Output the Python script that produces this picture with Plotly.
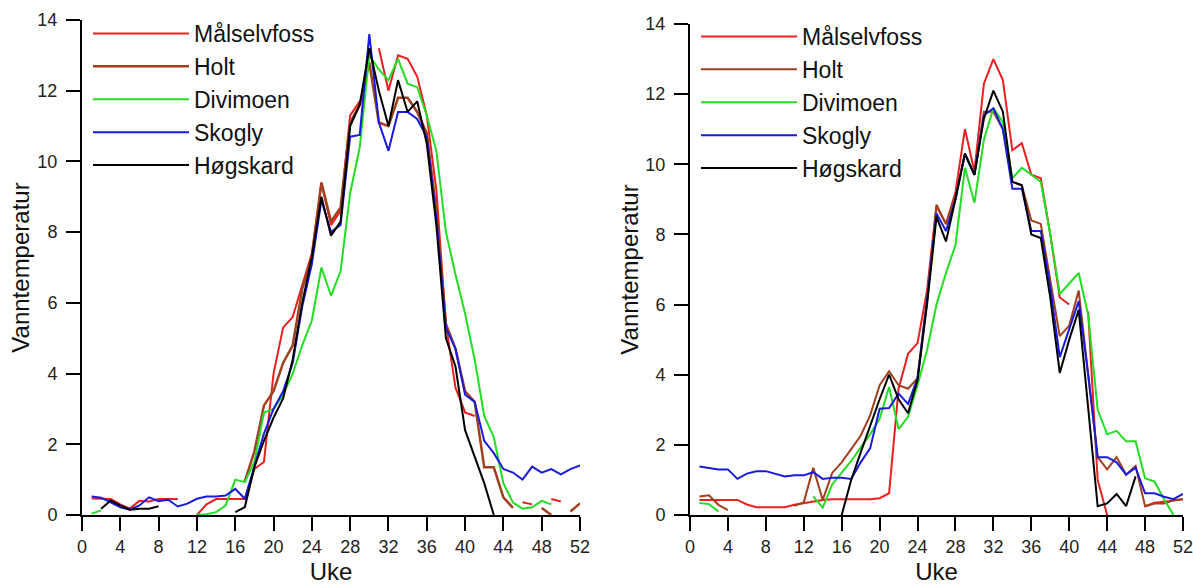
import plotly.graph_objects as go

weeks = list(range(1, 53))
N = None
series_names = ["Målselvfoss", "Holt", "Divimoen", "Skogly", "Høgskard"]
colors = ["#e82020", "#a0401e", "#22dd22", "#1a1adc", "#000000"]

# Left panel
L_mal = [0.47, 0.46, 0.45, 0.3, 0.18, 0.4, 0.38, 0.45, 0.45, 0.45, N, 0.0, 0.3, 0.45, 0.45, 0.45, 0.45, 1.3, 1.5, 4.0,
         5.3, 5.6, 6.5, 7.4, 9.4, 8.2, 8.6, 11.3, 11.7, N, 13.2, 12.0, 13.0, 12.9, 12.4, 11.3, 9.2, 5.4, 3.6, 2.9,
         2.8, N, N, N, N, 0.36, 0.3, N, 0.45, 0.38, N, N]
L_holt = [N, N, N, N, N, N, N, N, N, N, N, N, N, N, N, N, 0.95, 1.8, 3.1, 3.5,
          4.3, 4.8, 6.4, 7.3, 9.4, 8.3, 8.7, 11.1, 11.6, 12.8, 11.1, 11.0, 11.8, 11.8, 11.4, 10.8, 8.6, 5.4, 4.7, 3.5,
          3.2, 1.35, 1.35, 0.5, 0.2, N, N, 0.2, 0.0, N, 0.1, 0.33]
L_div = [0.04, 0.13, N, N, N, N, N, N, N, N, N, 0.0, 0.02, 0.08, 0.27, 1.0, 0.93, 1.5, 2.9, 3.0,
         3.4, 4.0, 4.8, 5.5, 7.0, 6.2, 6.9, 9.1, 10.4, 13.0, 12.6, 12.3, 12.9, 12.2, 12.1, 11.3, 10.3, 8.0, 6.8, 5.7,
         4.4, 2.8, 2.2, 0.9, 0.35, 0.18, 0.22, 0.4, 0.3, N, N, N]
L_sko = [0.52, 0.49, 0.36, 0.22, 0.15, 0.27, 0.5, 0.39, 0.43, 0.24, 0.32, 0.46, 0.52, 0.52, 0.55, 0.74, 0.46, 1.4, 2.3, 3.0,
         3.5, 4.3, 5.9, 7.1, 8.9, 8.0, 8.2, 10.7, 10.75, 13.6, 11.1, 10.3, 11.4, 11.4, 11.2, 10.7, 8.4, 5.3, 4.7, 3.4,
         3.2, 2.1, 1.75, 1.3, 1.2, 1.0, 1.37, 1.2, 1.3, 1.15, 1.3, 1.4]
L_hog = [N, 0.18, 0.41, 0.27, 0.15, 0.18, 0.18, 0.25, N, N, N, N, N, N, N, 0.08, 0.22, 1.35, 2.1, 2.75,
         3.3, 4.4, 6.0, 7.3, 9.0, 7.9, 8.3, 11.0, 11.6, 13.2, 12.0, 11.0, 12.3, 11.4, 11.7, 10.5, 8.2, 5.0, 4.2, 2.4,
         1.65, 0.9, 0.0, N, N, N, N, N, N, N, N, N]

# Right panel
R_mal = [0.43, 0.43, 0.43, 0.43, 0.43, 0.3, 0.22, 0.22, 0.22, 0.22, 0.29, 0.34, 0.38, 0.43, 0.45, 0.45, 0.45, 0.45, 0.45, 0.48,
         0.62, 3.6, 4.6, 4.9, 6.4, 8.8, 8.3, 9.2, 11.0, 9.8, 12.3, 13.0, 12.4, 10.4, 10.6, 9.7, 9.6, 8.0, 6.2, 6.0,
         N, 5.8, 1.0, 0.0, N, N, N, 0.25, 0.35, 0.38, 0.42, 0.45]
R_holt = [0.53, 0.56, 0.29, 0.14, N, N, N, N, N, N, 0.26, 0.36, 1.35, 0.43, 1.2, 1.5, 1.88, 2.26, 2.84, 3.7,
          4.1, 3.7, 3.6, 3.9, 6.2, 8.85, 8.3, 9.1, 10.3, 9.7, 11.5, 11.5, 11.0, 9.5, 9.4, 8.4, 8.3, 6.7, 5.1, 5.4,
          6.4, 4.0, 1.65, 1.3, 1.65, 1.15, 1.4, 0.25, 0.33, 0.33, 0.42, 0.45]
R_div = [0.34, 0.31, 0.1, N, N, N, N, N, N, N, N, N, 0.53, 0.21, 0.87, 1.2, 1.54, 1.92, 2.3, 2.74,
         3.65, 2.45, 2.8, 3.7, 4.7, 6.0, 6.9, 7.7, 9.9, 8.9, 10.7, 11.6, 11.2, 9.6, 9.9, 9.7, 9.5, 8.0, 6.3, 6.6,
         6.9, 5.7, 3.0, 2.3, 2.4, 2.1, 2.1, 1.05, 0.95, 0.45, 0.0, N]
R_sko = [1.38, 1.35, 1.3, 1.3, 1.03, 1.18, 1.25, 1.25, 1.17, 1.1, 1.13, 1.13, 1.22, 1.03, 1.06, 1.06, 1.03, 1.5, 1.9, 3.03,
         3.05, 3.46, 3.17, 3.9, 6.1, 8.6, 8.1, 9.0, 10.3, 9.7, 11.4, 11.6, 11.0, 9.3, 9.3, 8.1, 8.1, 6.5, 4.5, 5.3,
         6.1, 4.0, 1.65, 1.65, 1.5, 1.15, 1.35, 0.62, 0.62, 0.52, 0.45, 0.6]
R_hog = [N, N, N, N, N, N, N, N, N, N, N, N, N, N, N, 0.0, 1.0, 1.78, 2.55, 3.3,
         4.0, 3.3, 2.9, 3.85, 6.0, 8.5, 7.8, 9.0, 10.3, 9.7, 11.3, 12.1, 11.5, 9.5, 9.4, 8.0, 7.9, 6.2, 4.05, 5.0,
         5.85, 3.0, 0.25, 0.33, 0.6, 0.25, 1.1, N, N, N, N, N]

x_ticks = list(range(0, 53, 4))
y_ticks = list(range(0, 15, 2))

W, H = 1193, 585
FONT = "Liberation Sans, Arial, sans-serif"

fig = go.Figure()
left = [L_mal, L_holt, L_div, L_sko, L_hog]
right = [R_mal, R_holt, R_div, R_sko, R_hog]
for name, col, ys in zip(series_names, colors, left):
    fig.add_trace(go.Scatter(x=weeks, y=ys, mode="lines", name=name, connectgaps=False,
                             line=dict(color=col, width=2.5 if name == "Holt" else 2),
                             xaxis="x", yaxis="y", legend="legend"))
for name, col, ys in zip(series_names, colors, right):
    fig.add_trace(go.Scatter(x=weeks, y=ys, mode="lines", name=name, connectgaps=False,
                             line=dict(color=col, width=2),
                             xaxis="x2", yaxis="y2", legend="legend2"))

axis_common = dict(showline=True, linecolor="black", linewidth=2, ticks="outside", ticklen=14,
                   tickwidth=2, tickcolor="black", showgrid=False, zeroline=False,
                   tickfont=dict(family=FONT, size=18, color="#222"))

fig.update_layout(
    width=W, height=H,
    margin=dict(l=0, r=0, t=0, b=0, autoexpand=False),
    paper_bgcolor="white", plot_bgcolor="white",
    font=dict(family=FONT, color="#111"),
    xaxis=dict(domain=[82 / W, 580 / W], range=[0, 52], tickvals=x_ticks, anchor="y",
               ticklabeloverflow="allow",
               title=dict(text="Uke", font=dict(size=24), standoff=11), **axis_common),
    yaxis=dict(domain=[(H - 515) / H, (H - 20) / H], range=[0, 14], tickvals=y_ticks, anchor="x",
               title=dict(text="Vanntemperatur", font=dict(size=24), standoff=1), ticklabelstandoff=5,
               **axis_common),
    xaxis2=dict(domain=[690 / W, 1183 / W], range=[0, 52], tickvals=x_ticks, anchor="y2",
                ticklabeloverflow="allow",
                title=dict(text="Uke", font=dict(size=24), standoff=11), **axis_common),
    yaxis2=dict(domain=[(H - 515) / H, (H - 24) / H], range=[0, 14], tickvals=y_ticks, anchor="x2",
                title=dict(text="Vanntemperatur", font=dict(size=24), standoff=0), ticklabelstandoff=5,
                **axis_common),
    legend=dict(x=88 / W, y=(H - 12) / H, xanchor="left", yanchor="top", bgcolor="rgba(0,0,0,0)",
                itemwidth=96, font=dict(family=FONT, size=23, color="#111")),
    legend2=dict(x=696 / W, y=(H - 15) / H, xanchor="left", yanchor="top", bgcolor="rgba(0,0,0,0)",
                 itemwidth=96, font=dict(family=FONT, size=23, color="#111")),
)

fig.write_html("out.html", config={"displayModeBar": False},
               post_script="document.body.style.margin='0';document.body.style.overflow='hidden';")
